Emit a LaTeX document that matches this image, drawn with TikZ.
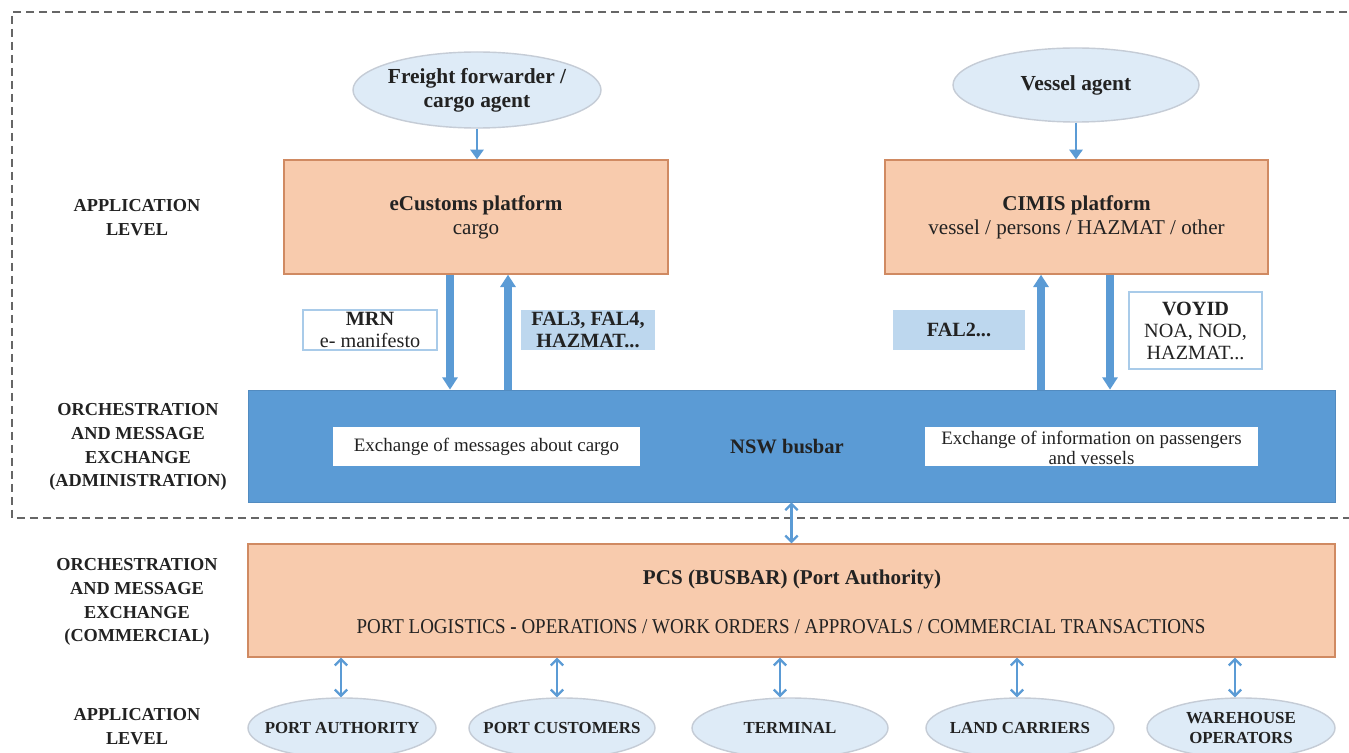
\documentclass[tikz,border=0pt]{standalone}
\usepackage{fontspec}
\setmainfont{Liberation Serif}
\usetikzlibrary{arrows.meta,shapes.geometric}
\definecolor{obox}{HTML}{F8CBAD}
\definecolor{oborder}{HTML}{D08A62}
\definecolor{busblue}{HTML}{5B9BD5}
\definecolor{lblue}{HTML}{BDD7EE}
\definecolor{ellfill}{HTML}{DEEBF7}
\definecolor{ellborder}{HTML}{C5CCD6}
\definecolor{txt}{HTML}{222222}
\definecolor{dashgrey}{HTML}{666666}
\def\PX{0.02cm}
\tikzset{
  orangebox/.style={draw=oborder, line width=0.8pt, fill=obox, inner sep=0pt, text=txt},
  actor/.style={ellipse, draw=ellborder, line width=0.8pt, fill=ellfill, inner xsep=-15pt, inner ysep=-6pt, text=txt, align=center},
  whitelabel/.style={draw=lblue!80!busblue, line width=0.8pt, fill=white, inner sep=0pt, text=txt, align=center},
  bluelabel/.style={fill=lblue, inner sep=0pt, text=txt, align=center},
  levellabel/.style={text=txt, align=center, font=\fontsize{10.4}{13.6}\selectfont\bfseries},
  bigarrow/.style={draw=busblue, line width=4.3pt, -{Triangle[length=7pt,width=8.5pt]}},
  thinarrow/.style={draw=busblue, line width=1.3pt, {Straight Barb[length=3.5pt,width=7pt]}-{Straight Barb[length=3.5pt,width=7pt]}},
  smallarrow/.style={draw=busblue, line width=1.3pt, -{Triangle[length=5.5pt,width=7.5pt]}},
  dashframe/.style={draw=dashgrey, line width=1.2pt, dash pattern=on 8*\PX off 5*\PX}
}
\begin{document}
\begin{tikzpicture}[x=0.02cm,y=-0.02cm]
\clip (0,0) rectangle (1349,753);
\fill[white] (0,0) rectangle (1349,753);

% dashed frame (open on the right)
\draw[dashframe] (1360,12) -- (12,12) -- (12,518) -- (1360,518);

% level labels
\node[levellabel] (lab1) at (137,218) {APPLICATION\\LEVEL};
\node[levellabel] (lab2) at (138,447) {ORCHESTRATION\\AND MESSAGE\\EXCHANGE\\(ADMINISTRATION)};
\node[levellabel] (lab3) at (137,602) {ORCHESTRATION\\AND MESSAGE\\EXCHANGE\\(COMMERCIAL)};
\node[levellabel] (lab4) at (137,727) {APPLICATION\\LEVEL};

% top actors
\node[actor, minimum width=248*\PX, minimum height=76*\PX, font=\fontsize{12.2}{13.6}\selectfont\bfseries] (ff) at (477,90) {Freight forwarder /\\cargo agent};
\node[actor, minimum width=246*\PX, minimum height=74*\PX, font=\fontsize{12.2}{13.6}\selectfont\bfseries] (va) at (1076,85) {Vessel agent};

% platforms
\node[orangebox, minimum width=384*\PX, minimum height=114*\PX, align=center, font=\fontsize{12}{13.8}\selectfont] (ecus) at (476,217) {\textbf{eCustoms platform}\\cargo};
\node[orangebox, minimum width=383*\PX, minimum height=114*\PX, align=center, font=\fontsize{12}{13.8}\selectfont] (cimis) at (1076.5,217) {\textbf{CIMIS platform}\\vessel / persons / HAZMAT / other};

\draw[smallarrow] (ff.south) -- (ff.south |- ecus.north);
\draw[smallarrow] (va.south) -- (va.south |- cimis.north);

% NSW busbar
\node[fill=busblue, draw=busblue!90!black, line width=0.4pt, minimum width=1087*\PX, minimum height=112*\PX, inner sep=0pt] (nsw) at (791.5,446) {};
\node[text=txt, font=\fontsize{11.7}{13}\selectfont\bfseries] (nswt) at (787,447) {NSW busbar};
\node[fill=white, minimum width=307*\PX, minimum height=39*\PX, inner sep=0pt, text=txt, font=\fontsize{10.8}{12}\selectfont] (exc1) at (486.5,446.5) {Exchange of messages about cargo};
\node[fill=white, minimum width=333*\PX, minimum height=39*\PX, inner sep=0pt] (exc2) at (1091.5,446.5) {};
\node[text=txt, align=center, font=\fontsize{10.8}{11.8}\selectfont, inner sep=0pt] (exc2t) at (1091.5,448) {Exchange of information on passengers\\and vessels};

% message labels
\node[whitelabel, minimum width=134*\PX, minimum height=40*\PX, font=\fontsize{11.5}{12}\selectfont] (mrn) at (370,330) {\textbf{MRN}\\e- manifesto};
\node[bluelabel, minimum width=134*\PX, minimum height=40*\PX, font=\fontsize{11.5}{12.5}\selectfont\bfseries] (fal3) at (588,330) {FAL3, FAL4,\\HAZMAT...};
\node[bluelabel, minimum width=132*\PX, minimum height=40*\PX, font=\fontsize{11.5}{12.5}\selectfont\bfseries] (fal2) at (959,330) {FAL2...};
\node[whitelabel, minimum width=133*\PX, minimum height=77*\PX, font=\fontsize{11.5}{12.5}\selectfont] (voy) at (1195.5,330.5) {\textbf{VOYID}\\NOA, NOD,\\HAZMAT...};

% thick arrows between platforms and NSW
\path (ecus.south) ++(-26,0) coordinate (e1);
\path (ecus.south) ++(32,0) coordinate (e2);
\path (cimis.south) ++(-35.5,0) coordinate (c1);
\path (cimis.south) ++(33.5,0) coordinate (c2);
\draw[bigarrow] (e1) -- (e1 |- nsw.north);
\draw[bigarrow] (e2 |- nsw.north) -- (e2);
\draw[bigarrow] (c1 |- nsw.north) -- (c1);
\draw[bigarrow] (c2) -- (c2 |- nsw.north);

% PCS
\node[orangebox, minimum width=1087*\PX, minimum height=113*\PX] (pcs) at (791.5,600.5) {};
\node[text=txt, font=\fontsize{12}{13}\selectfont\bfseries] (pcst1) at (792,579) {PCS (BUSBAR) (Port Authority)};
\node[text=txt, font=\fontsize{12}{13}\selectfont] (pcst2) at (781,627) {\scalebox{0.9}[1]{PORT LOGISTICS \textbf{-} OPERATIONS / WORK ORDERS / APPROVALS / COMMERCIAL TRANSACTIONS}};

\draw[thinarrow] (nsw.south) -- (pcs.north);

% bottom actors
\tikzset{botactor/.style={actor, minimum width=188*\PX, minimum height=60*\PX, font=\fontsize{9.6}{11}\selectfont\bfseries}}
\node[botactor] (pa) at (342,728) {PORT AUTHORITY};
\node[botactor, minimum width=186*\PX] (pc) at (562,728) {PORT CUSTOMERS};
\node[botactor, minimum width=196*\PX] (term) at (790,728) {TERMINAL};
\node[botactor] (lc) at (1020,728) {LAND CARRIERS};
\node[botactor] (wo) at (1241,728) {WAREHOUSE\\OPERATORS};

\path (pa.north) ++(-1,0) coordinate (b1);
\path (pc.north) ++(-5,0) coordinate (b2);
\path (term.north) ++(-10,0) coordinate (b3);
\path (lc.north) ++(-3,0) coordinate (b4);
\path (wo.north) ++(-6,0) coordinate (b5);
\draw[thinarrow] (b1 |- pcs.south) -- (b1);
\draw[thinarrow] (b2 |- pcs.south) -- (b2);
\draw[thinarrow] (b3 |- pcs.south) -- (b3);
\draw[thinarrow] (b4 |- pcs.south) -- (b4);
\draw[thinarrow] (b5 |- pcs.south) -- (b5);
\end{tikzpicture}
\end{document}
